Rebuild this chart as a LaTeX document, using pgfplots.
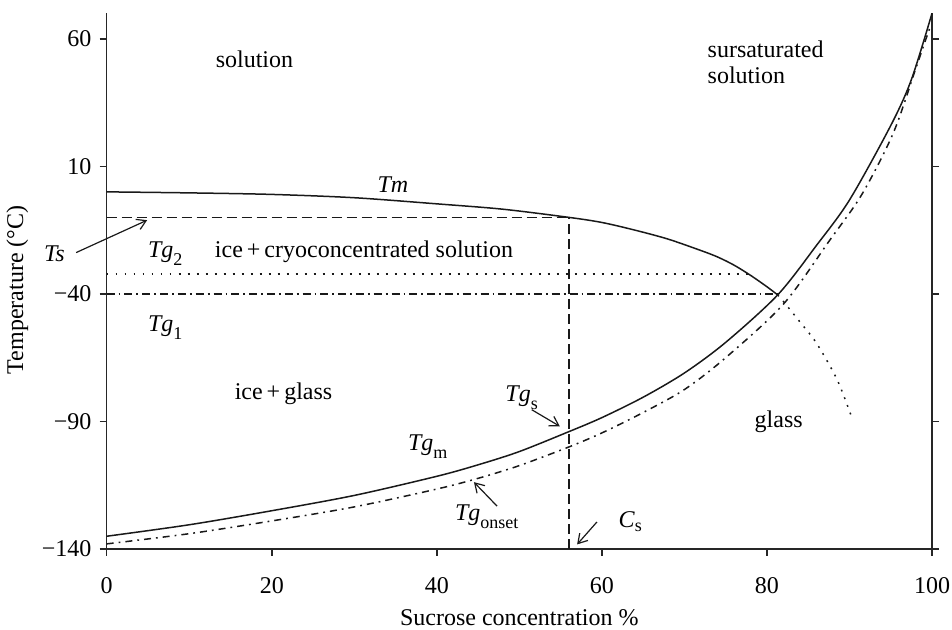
\documentclass[border=0pt,12pt]{standalone}
\usepackage{fontspec}
\setmainfont{Liberation Serif}
\usepackage{pgfplots}
\pgfplotsset{compat=1.18}
\usetikzlibrary{arrows.meta}
\newcommand\sub[1]{\raisebox{-4pt}{\fontsize{9}{10}\selectfont #1}}
\begin{document}
\begin{tikzpicture}
\useasboundingbox (-53.35pt,-40.5pt) rectangle (422.65pt,274.5pt);
\begin{axis}[
  at={(0,0)}, anchor=south west,
  scale only axis, width=412.65pt, height=267.85pt,
  xmin=0, xmax=100, ymin=-140, ymax=70,
  axis x line=bottom, axis y line=box,
  axis line style={-, line width=0.8pt, black!85},
  tick style={line width=0.8pt, black!85},
  tick align=outside, major tick length=3.5pt,
  xtick={0,20,40,60,80,100}, xticklabels={0,20,40,60,80,100},
  ytick={-140,-90,-40,10,60}, yticklabels={−140,−90,−40,10,60},
  yticklabel pos=left,
  xticklabel style={yshift=-6.5pt},
  xlabel={Sucrose concentration \%},
  ylabel={Temperature (°C)},
  xlabel style={at={(axis description cs:0.5,-0.1437)}, anchor=base},
  ylabel style={at={(axis description cs:-0.1014,0.4835)}, anchor=base},
  clip=false,
  every axis plot/.append style={line width=0.75pt, black!90},
]
% Tm (solid)
\addplot[solid, smooth] coordinates {(0,0) (10,-0.4) (20,-1) (30,-2.3) (40,-4.7) (48,-6.8) (56,-10) (60,-12) (64,-15) (68,-18.5) (72,-23) (74,-25.5) (76,-28.7) (78,-32.7) (80,-37.2) (81.3,-40.4)};
% Tm continuation (dotted)
\addplot[dash pattern=on 0.9pt off 3.2pt, smooth] coordinates {(81.3,-40.4) (82,-43) (84,-51) (86,-59.3) (88.5,-73.6) (90.3,-88.6)};
% Ts (dashed)
\addplot[dash pattern=on 5pt off 2.5pt] coordinates {(0,-10) (56,-10)};
\addplot[dash pattern=on 5pt off 2.5pt] coordinates {(56,-140) (56,-10)};
% Tg2 (dotted)
\addplot[dash pattern=on 0.9pt off 3.6pt] coordinates {(0,-32.2) (78.5,-32.2)};
% Tg1 (dash-dot)
\addplot[dash pattern=on 4pt off 2pt on 0.9pt off 2pt] coordinates {(0,-40) (81.3,-40)};
% Tgm (solid)
\addplot[solid, smooth] coordinates {(0,-135) (10,-130.5) (20,-125) (30,-119) (40,-111.5) (45,-107) (50,-101.8) (56,-94) (60,-88.5) (65,-80.5) (70,-71) (75,-59) (81.3,-40.4) (86,-21) (90,-3.2) (95,26) (97.5,44) (100,70)};
% Tg onset (dash-dot)
\addplot[dash pattern=on 3.5pt off 2.5pt on 0.9pt off 2.5pt, smooth] coordinates {(0,-138) (10,-134) (20,-129) (30,-123.5) (40,-116.5) (45,-112.3) (50,-107.3) (56,-100) (60,-94.5) (65,-86.5) (70,-77.5) (75,-65) (82,-44) (87.6,-19) (91.5,-1) (95.3,23) (98.1,49) (99.7,64)};

% labels
\node[anchor=base west] at (axis cs:12.2,48.9) {solution};
\node[anchor=base west] at (axis cs:71.8,52.8) {sursaturated};
\node[anchor=base west] at (axis cs:71.8,42.4) {solution};
\node[anchor=base west] at (axis cs:31.8,-0.3) {\textit{Tm}};
\node[anchor=base west] at (axis cs:-8.6,-27.4) {\textit{Ts}};
\node[anchor=base west] at (axis cs:4.0,-25.8) {\textit{Tg}\sub{2}};
\node[anchor=base west] at (axis cs:4.0,-54.7) {\textit{Tg}\sub{1}};
\node[anchor=base west] at (axis cs:12.1,-25.6) {ice\,+\,cryoconcentrated solution};
\node[anchor=base west] at (axis cs:14.5,-81.2) {ice\,+\,glass};
\node[anchor=base west] at (axis cs:35.5,-101.3) {\textit{Tg}\sub{m}};
\node[anchor=base west] at (axis cs:47.3,-82.1) {\textit{Tg}\sub{s}};
\node[anchor=base west] at (axis cs:41.2,-129) {\textit{Tg}\sub{onset}};
\node[anchor=base west] at (axis cs:61,-131.6) {\textit{C}\raisebox{-2pt}{\fontsize{9}{10}\selectfont s}};
\node[anchor=base west] at (axis cs:77.5,-92.5) {glass};

% annotation arrows
\draw[-{Straight Barb[length=4.5pt,width=5.5pt]}, line width=0.6pt, black!90] (axis cs:-3.7,-23.8) -- (axis cs:4.9,-11.1);
\draw[-{Straight Barb[length=4.5pt,width=5.5pt]}, line width=0.6pt, black!90] (axis cs:51.5,-85.4) -- (axis cs:54.9,-91.9);
\draw[-{Straight Barb[length=4.5pt,width=5.5pt]}, line width=0.6pt, black!90] (axis cs:47.3,-123.2) -- (axis cs:44.5,-113.8);
\draw[-{Straight Barb[length=4.5pt,width=5.5pt]}, line width=0.6pt, black!90] (axis cs:59.4,-129.4) -- (axis cs:57,-138.2);
\end{axis}
\end{tikzpicture}
\end{document}
